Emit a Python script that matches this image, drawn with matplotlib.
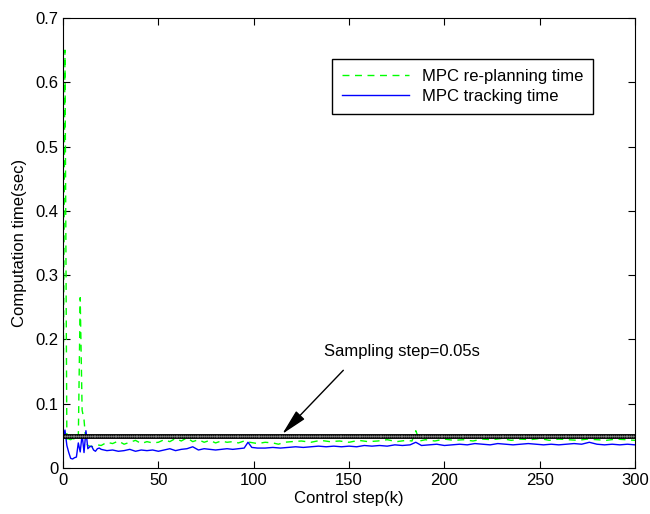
import numpy as np
import matplotlib
matplotlib.use('Agg')
import matplotlib.pyplot as plt

plt.rcParams['font.family'] = ['Liberation Sans', 'DejaVu Sans']
plt.rcParams['xtick.direction'] = 'in'
plt.rcParams['ytick.direction'] = 'in'

# MPC tracking time (blue)
track_k = [0, 1, 2, 3, 4, 5, 6, 7, 8, 9, 10, 11, 12, 13, 14, 15, 16, 17, 18, 19, 20,
           23, 26, 29, 32, 35, 38, 41, 44, 47, 50, 53, 56, 59, 62, 65, 68, 71, 74, 77,
           80, 83, 86, 89, 92, 95, 97, 99, 102, 106, 110, 114, 118, 122, 126, 130, 134,
           138, 142, 146, 150, 154, 158, 162, 166, 170, 174, 178, 182, 185, 188, 192,
           196, 200, 204, 208, 212, 216, 220, 224, 228, 232, 236, 240, 244, 248, 252,
           256, 260, 264, 268, 272, 276, 280, 284, 288, 292, 296, 300]
track_t = [0.045, 0.059, 0.035, 0.024, 0.015, 0.014, 0.016, 0.017, 0.039, 0.025, 0.052,
           0.024, 0.058, 0.030, 0.033, 0.034, 0.028, 0.026, 0.030, 0.031, 0.029,
           0.027, 0.028, 0.026, 0.027, 0.029, 0.026, 0.028, 0.027, 0.028, 0.026, 0.028,
           0.030, 0.027, 0.029, 0.030, 0.033, 0.028, 0.030, 0.029, 0.028, 0.029, 0.030,
           0.029, 0.030, 0.031, 0.040, 0.032, 0.031, 0.031, 0.032, 0.031, 0.032, 0.033,
           0.032, 0.033, 0.034, 0.033, 0.034, 0.033, 0.034, 0.033, 0.035, 0.034, 0.035,
           0.034, 0.036, 0.035, 0.036, 0.040, 0.035, 0.036, 0.037, 0.035, 0.036, 0.037,
           0.036, 0.038, 0.037, 0.036, 0.038, 0.037, 0.036, 0.037, 0.038, 0.037, 0.036,
           0.037, 0.036, 0.037, 0.038, 0.037, 0.040, 0.037, 0.036, 0.037, 0.036, 0.037,
           0.036]

# MPC re-planning time (green dashed)
plan_k = [0, 1, 2, 3, 4, 5, 6, 7, 8, 9, 10, 11, 12, 13, 14, 16, 18, 20, 23, 26, 29, 32,
          35, 38, 41, 44, 47, 50, 53, 56, 59, 62, 65, 68, 71, 74, 77, 80, 83, 86, 89, 92,
          95, 98, 102, 106, 110, 113, 116, 120, 125, 130, 135, 140, 145, 150, 155, 160,
          165, 170, 175, 180, 183, 185, 187, 190, 195, 200, 205, 210, 215, 220, 225,
          230, 235, 240, 245, 250, 255, 260, 265, 270, 275, 280, 285, 290, 295, 300]
plan_t = [0.040, 0.650, 0.040, 0.045, 0.044, 0.046, 0.045, 0.043, 0.045, 0.265, 0.090,
          0.075, 0.040, 0.035, 0.034, 0.033, 0.036, 0.035, 0.040, 0.038, 0.042, 0.037,
          0.040, 0.043, 0.038, 0.041, 0.039, 0.040, 0.044, 0.041, 0.046, 0.042, 0.047,
          0.041, 0.044, 0.040, 0.043, 0.039, 0.042, 0.040, 0.041, 0.039, 0.042, 0.040,
          0.038, 0.040, 0.039, 0.037, 0.040, 0.041, 0.042, 0.040, 0.043, 0.041, 0.042,
          0.040, 0.043, 0.041, 0.042, 0.044, 0.041, 0.043, 0.042, 0.058, 0.042, 0.044,
          0.042, 0.045, 0.043, 0.044, 0.042, 0.045, 0.044, 0.046, 0.043, 0.045, 0.044,
          0.046, 0.043, 0.045, 0.044, 0.043, 0.045, 0.044, 0.043, 0.045, 0.044, 0.043]

SAMPLING = 0.05
steps = np.arange(0, 301)

fig = plt.figure(figsize=(6.5, 5.14), dpi=100)
ax = fig.add_axes([0.097, 0.0895, 0.88, 0.8755])

ax.plot(plan_k, plan_t, color='#00ff00', lw=1, dashes=(5, 4),
        label='MPC re-planning time')
ax.plot(track_k, track_t, '-', color='#0000ff', lw=1, label='MPC tracking time')
ax.plot(steps, np.full(len(steps), SAMPLING), '-', color='k', lw=3.5,
        marker='.', ms=3, mfc='#888888', mec='#888888', mew=0)

# arrow + text annotation
ax.annotate('', xy=(115, 0.053), xytext=(147, 0.152),
            arrowprops=dict(arrowstyle='-|>,head_length=0.8,head_width=0.18',
                            color='k', lw=1, mutation_scale=20,
                            shrinkA=0, shrinkB=0))
ax.text(137, 0.181, 'Sampling step=0.05s', fontsize=12, va='center', ha='left')

ax.set_xlim(0, 300)
ax.set_ylim(0, 0.7)
ax.set_xticks([0, 50, 100, 150, 200, 250, 300])
ax.set_yticks([0, 0.1, 0.2, 0.3, 0.4, 0.5, 0.6, 0.7])
ax.set_yticklabels(['0', '0.1', '0.2', '0.3', '0.4', '0.5', '0.6', '0.7'])
ax.tick_params(labelsize=12, top=True, right=True, length=5)
ax.set_xlabel('Control step(k)', fontsize=12, labelpad=2)
ax.set_ylabel('Computation time(sec)', fontsize=12, labelpad=6)

ax.legend(loc='upper right', bbox_to_anchor=(0.927, 0.909), borderaxespad=0,
          fontsize=12, fancybox=False, framealpha=1, edgecolor='k',
          borderpad=0.6, handlelength=4, labelspacing=0.3)

fig.savefig('out.png', dpi=100)
